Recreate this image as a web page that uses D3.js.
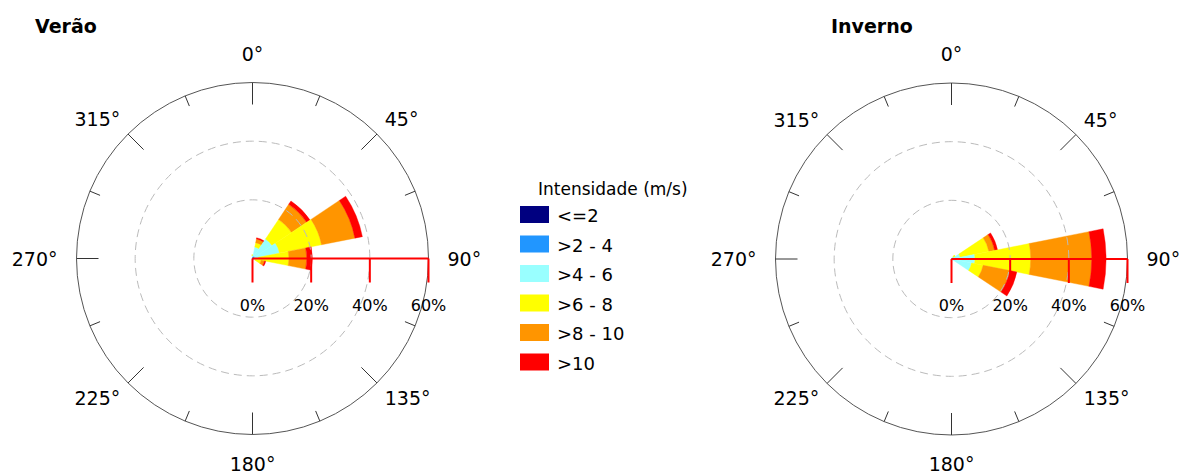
<!DOCTYPE html>
<html lang="pt">
  <head>
    <meta charset="utf-8">
    <title>Rosa dos ventos - Verão / Inverno</title>
    <style type="text/css">
      body{
        margin: 0;
        background: #fff;
      }
      svg text{
        font-family: "DejaVu Sans", Verdana, sans-serif;
        fill: #000;
      }
    </style>
    <script src="https://cdn.jsdelivr.net/npm/d3@7"></script>
  </head>
  <body>
    <div id="chart"></div>
    <script type="text/javascript">
      //direction of each sector (degrees, 0 = north)
      var directions = [0, 22.5, 45, 67.5, 90, 112.5, 135, 157.5, 180, 202.5, 225, 247.5, 270, 292.5, 315, 337.5];

      //wind speed classes
      var classes = ["<=2", ">2 - 4", ">4 - 6", ">6 - 8", ">8 - 10", ">10"];

      //frequency (%) of each class per direction, summer
      var veraoFreq = [
        [0,   0,   0.1, 0.1,  0.1,  0,   0, 0, 0, 0, 0, 0, 0, 0, 0, 0],
        [0.2, 0.5, 0.7, 0.7,  0.4,  0.3, 0, 0, 0, 0, 0, 0, 0, 0, 0, 0],
        [0.8, 3.5, 7.2, 8.6,  1.5,  0.7, 0, 0, 0, 0, 0, 0, 0, 0, 0, 0],
        [0.3, 1.5, 8.0, 14.6, 10.4, 2.0, 0, 0, 0, 0, 0, 0, 0, 0, 0, 0],
        [0,   1.3, 6.2, 11.6, 6.1,  1.2, 0, 0, 0, 0, 0, 0, 0, 0, 0, 0],
        [0,   0.4, 1.4, 2.6,  1.9,  0.4, 0, 0, 0, 0, 0, 0, 0, 0, 0, 0]
      ];

      //frequency (%) of each class per direction, winter
      var invernoFreq = [
        [0, 0, 0,   0,    0.1,  0,   0, 0, 0, 0, 0, 0, 0, 0, 0, 0],
        [0, 0, 0.2, 0.3,  0.4,  0.4, 0, 0, 0, 0, 0, 0, 0, 0, 0, 0],
        [0, 0, 0.6, 2.7,  7.5,  6.6, 0, 0, 0, 0, 0, 0, 0, 0, 0, 0],
        [0, 0, 0.8, 10.0, 19.0, 4.0, 0, 0, 0, 0, 0, 0, 0, 0, 0, 0],
        [0, 0, 0,   2.0,  20.8, 9.3, 0, 0, 0, 0, 0, 0, 0, 0, 0, 0],
        [0, 0, 0,   1.0,  4.9,  2.4, 0, 0, 0, 0, 0, 0, 0, 0, 0, 0]
      ];

      //radial scale ticks (%)
      var radialTicks = [0, 20, 40, 60];

      //angle labels
      var angleLabels = [0, 45, 90, 135, 180, 225, 270, 315];

      //colours of the classes
      var colors = ["#000080", "#2196FF", "#99FFFF", "#FFFF00", "#FF9500", "#FF0000"];

      var width = 1184;
      var height = 475;
      var outerR = 176;

      var svg = d3.select("#chart")
        .append("svg")
        .attr("width", width)
        .attr("height", height);

      //radius scale shared by both roses
      var rScale = d3.scaleLinear()
        .domain([0, 60])
        .range([0, outerR]);

      var roses = [
        {title: "Verão", cx: 252.5, cy: 258.5, titleX: 35, freq: veraoFreq},
        {title: "Inverno", cx: 951.5, cy: 259, titleX: 831, freq: invernoFreq}
      ];

      function rad(deg){
        return deg * Math.PI / 180;
      }

      roses.forEach(function(rose){
        var g = svg.append("g")
          .attr("transform", "translate(" + rose.cx + "," + rose.cy + ")");

        //title
        svg.append("text")
          .attr("x", rose.titleX)
          .attr("y", 33)
          .style("font-size", "19px")
          .style("font-weight", "bold")
          .text(rose.title);

        //stacked sectors
        var bands = [];
        directions.forEach(function(dir, i){
          var cum = 0;
          classes.forEach(function(c, k){
            var v = rose.freq[k][i];
            if(v > 0){
              bands.push({dir: dir, k: k, r0: cum, r1: cum + v});
            }
            cum += v;
          });
        });

        var arc = d3.arc()
          .innerRadius(d => rScale(d.r0))
          .outerRadius(d => rScale(d.r1))
          .startAngle(d => rad(d.dir - 11.25))
          .endAngle(d => rad(d.dir + 11.25));

        g.selectAll("path.band")
          .data(bands)
          .enter()
          .append("path")
          .attr("class", "band")
          .attr("d", arc)
          .attr("fill", d => colors[d.k])
          .attr("stroke", d => colors[d.k])
          .attr("stroke-width", 0.4);

        //dashed grid circles
        g.selectAll("circle.grid")
          .data([20, 40])
          .enter()
          .append("circle")
          .attr("class", "grid")
          .attr("r", d => rScale(d))
          .attr("fill", "none")
          .attr("stroke", "#bbb")
          .attr("stroke-width", 1)
          .attr("stroke-dasharray", "8,5");

        //outer circle
        g.append("circle")
          .attr("r", outerR)
          .attr("fill", "none")
          .attr("stroke", "#555")
          .attr("stroke-width", 1);

        //ticks around the outer circle
        g.selectAll("line.atick")
          .data(directions)
          .enter()
          .append("line")
          .attr("class", "atick")
          .attr("x1", d => outerR * Math.sin(rad(d)))
          .attr("y1", d => -outerR * Math.cos(rad(d)))
          .attr("x2", d => (outerR - (d % 45 == 0 ? 22 : 11)) * Math.sin(rad(d)))
          .attr("y2", d => -(outerR - (d % 45 == 0 ? 22 : 11)) * Math.cos(rad(d)))
          .attr("stroke", "#333")
          .attr("stroke-width", 1);

        //angle labels
        g.selectAll("text.alabel")
          .data(angleLabels)
          .enter()
          .append("text")
          .attr("class", "alabel")
          .style("font-size", "19px")
          .attr("text-anchor", function(d){
            var s = Math.sin(rad(d));
            return s > 0.1 ? "start" : (s < -0.1 ? "end" : "middle");
          })
          .attr("x", function(d){
            var lr = d % 90 == 0 ? 195 : 187;
            return lr * Math.sin(rad(d));
          })
          .attr("y", function(d){
            var lr = d % 90 == 0 ? 198 : 187;
            var c = Math.cos(rad(d));
            var y = -lr * c;
            if(c > 0.1){ return y; }
            if(c < -0.1){ return y + 14; }
            return y + 7;
          })
          .text(d => d + "°");

        //red radial scale
        g.append("line")
          .attr("x1", rScale(0))
          .attr("x2", rScale(60))
          .attr("y1", 0)
          .attr("y2", 0)
          .attr("stroke", "red")
          .attr("stroke-width", 2);

        g.selectAll("line.rtick")
          .data(radialTicks)
          .enter()
          .append("line")
          .attr("class", "rtick")
          .attr("x1", d => rScale(d))
          .attr("x2", d => rScale(d))
          .attr("y1", 0)
          .attr("y2", 24)
          .attr("stroke", "red")
          .attr("stroke-width", 2);

        g.selectAll("text.rlabel")
          .data(radialTicks)
          .enter()
          .append("text")
          .attr("class", "rlabel")
          .attr("x", d => rScale(d))
          .attr("y", 52)
          .attr("text-anchor", "middle")
          .style("font-size", "16px")
          .text(d => d + "%");
      });

      //legend
      var legend = svg.append("g");

      legend.append("text")
        .attr("x", 538)
        .attr("y", 195)
        .style("font-size", "17px")
        .text("Intensidade (m/s)");

      legend.selectAll("rect")
        .data(classes)
        .enter()
        .append("rect")
        .attr("x", 520)
        .attr("y", (d, i) => 206 + i * 29.5)
        .attr("width", 29)
        .attr("height", 17)
        .attr("fill", (d, i) => colors[i]);

      legend.selectAll("text.item")
        .data(classes)
        .enter()
        .append("text")
        .attr("class", "item")
        .attr("x", 557)
        .attr("y", (d, i) => 222 + i * 29.5)
        .style("font-size", "18px")
        .text(d => d);
    </script>
  </body>
</html>
